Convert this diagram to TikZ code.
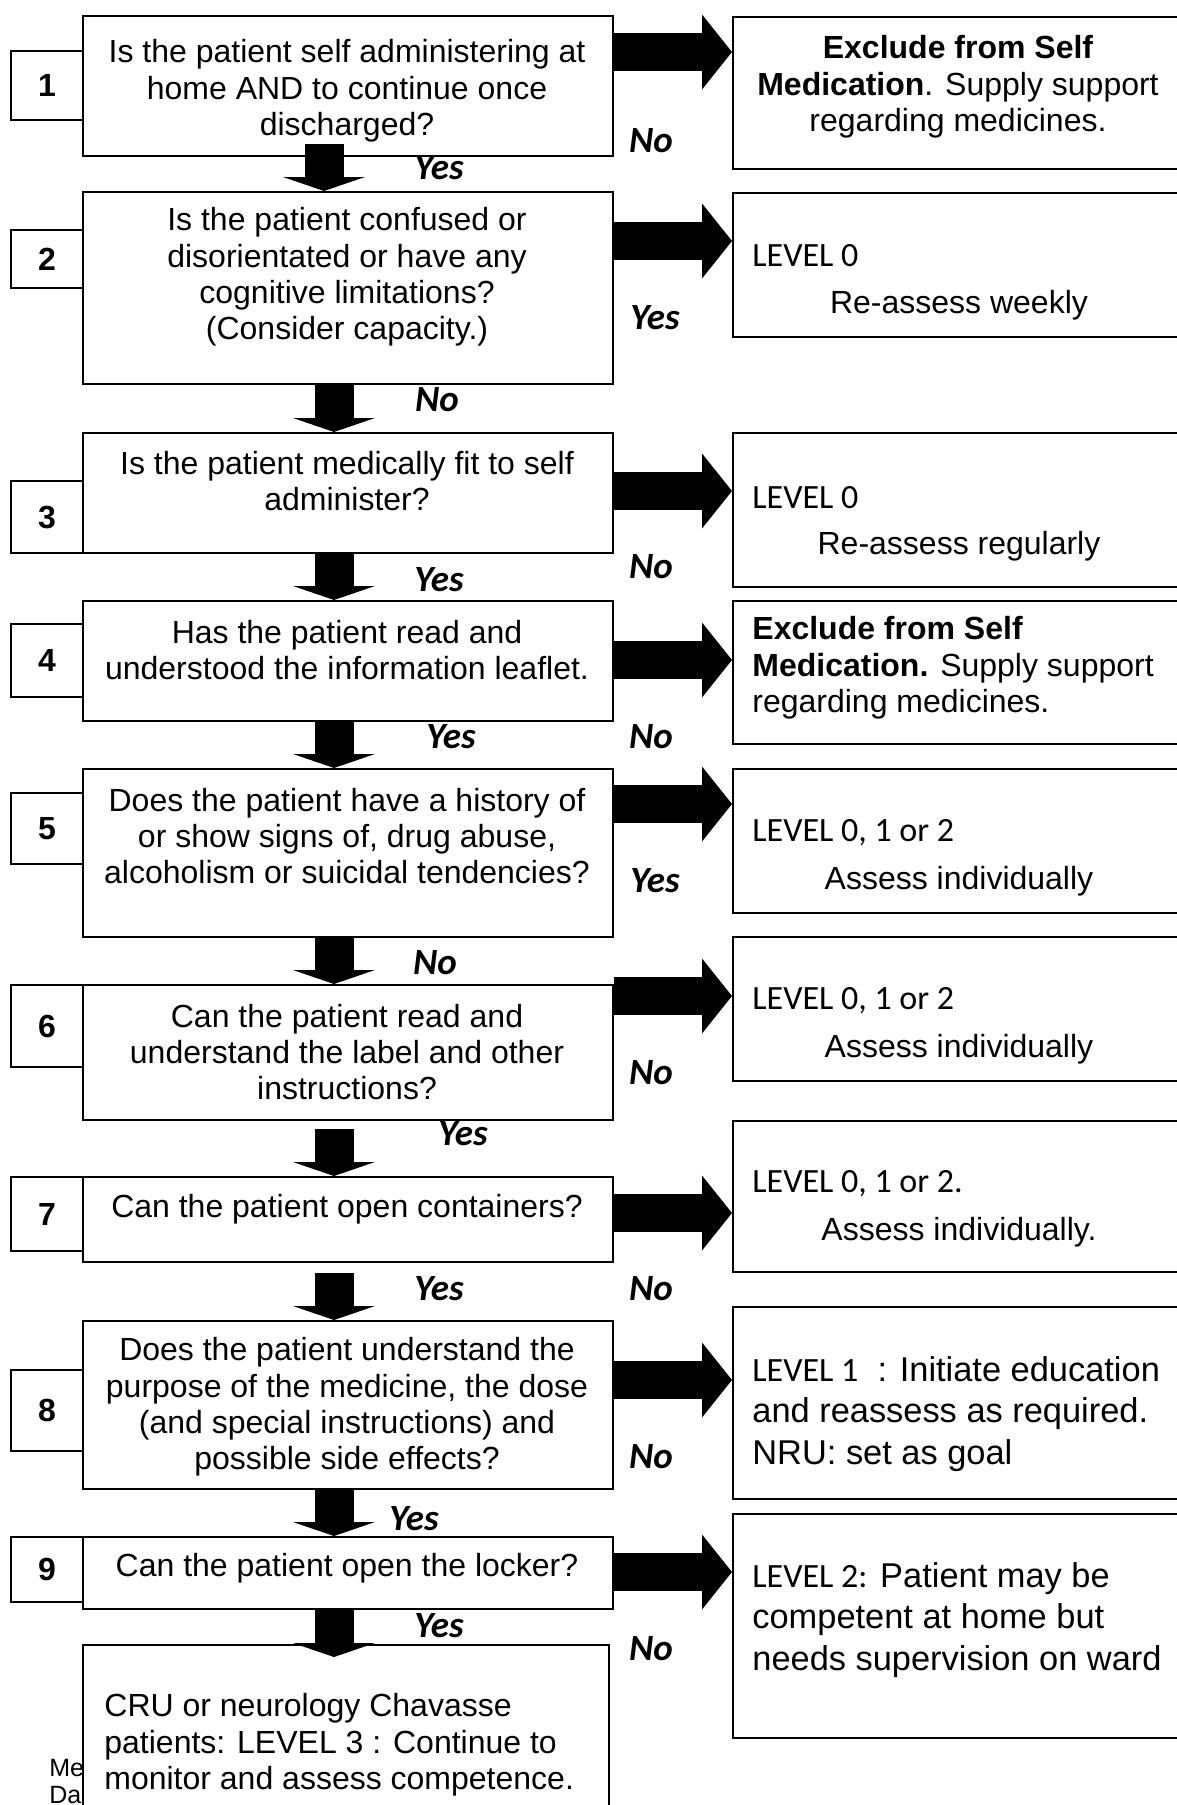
\documentclass[tikz,border=0pt]{standalone}
\usepackage{fontspec}
\setmainfont{Liberation Sans}
\newfontfamily\calib{Carlito}
\usetikzlibrary{calc}

\begin{document}
\begin{tikzpicture}
  [x=0.5pt,y=-0.5pt,
   qbox/.style={draw,line width=1pt,fill=white,anchor=north west,inner sep=0pt,minimum width=265pt},
   nbox/.style={draw,line width=1pt,fill=white,anchor=north west,inner sep=0pt,minimum width=36pt,font=\fontsize{16}{18}\selectfont\bfseries},
   rbox/.style={draw,line width=1pt,anchor=north west,inner sep=0pt,minimum width=235pt},
   qtext/.style={align=center,inner sep=0pt,font=\fontsize{16}{18.2}\selectfont},
   ltext/.style={align=left,anchor=west,inner sep=0pt,font=\fontsize{16}{18.2}\selectfont},
   btext/.style={align=left,anchor=west,inner sep=0pt,font=\fontsize{17.2}{20.7}\selectfont},
   lvl/.style={anchor=west,inner sep=0pt,font=\fontsize{17}{20}\selectfont\calib},
   yn/.style={inner sep=0pt,font=\fontsize{18.5}{20}\selectfont\calib\bfseries\itshape},
   rshaft/.style={line width=19pt,shorten >=15pt},
   dshaft/.style={line width=19.5pt,shorten >=7pt}]
  \useasboundingbox (0,0) rectangle (1177,1805);
  \clip (0,0) rectangle (1177,1805);

  % left numbers
  \node[nbox,minimum height=34.5pt] (n1) at (10,50) {1};
  \node[nbox,minimum height=29pt] (n2) at (10,229) {2};
  \node[nbox,minimum height=36pt] (n3) at (10,480) {3};
  \node[nbox,minimum height=36.5pt] (n4) at (10,623) {4};
  \node[nbox,minimum height=35.5pt] (n5) at (10,792) {5};
  \node[nbox,minimum height=41pt] (n6) at (10,984) {6};
  \node[nbox,minimum height=37pt] (n7) at (10,1176) {7};
  \node[nbox,minimum height=40.5pt] (n8) at (10,1369) {8};
  \node[nbox,minimum height=32.5pt] (n9) at (10,1536) {9};

  % questions
  \node[qbox,minimum height=70pt] (q1) at (82,15) {};
  \node[qbox,minimum height=96pt] (q2) at (82,191) {};
  \node[qbox,minimum height=60pt] (q3) at (82,432) {};
  \node[qbox,minimum height=60pt] (q4) at (82,600) {};
  \node[qbox,minimum height=84pt] (q5) at (82,768) {};
  \node[qbox,minimum height=67.5pt] (q6) at (82,984) {};
  \node[qbox,minimum height=42.5pt] (q7) at (82,1176) {};
  \node[qbox,minimum height=84pt] (q8) at (82,1320) {};
  \node[qbox,minimum height=36pt] (q9) at (82,1536) {};

  \node[qtext] (qt1) at (347,91) {Is the patient self administering at\\home AND to continue once\\discharged?};
  \node[qtext] (qt2) at (347,277) {Is the patient confused or\\disorientated or have any\\cognitive limitations?\\(Consider capacity.)};
  \node[qtext] (qt3) at (347,481) {Is the patient medically fit to self\\administer?};
  \node[qtext] (qt4) at (347,650) {Has the patient read and\\understood the information leaflet.};
  \node[qtext] (qt5) at (347,836) {Does the patient have a history of\\or show signs of, drug abuse,\\alcoholism or suicidal tendencies?};
  \node[qtext] (qt6) at (347,1052) {Can the patient read and\\understand the label and other\\instructions?};
  \node[qtext] (qt7) at (347,1209) {Can the patient open containers?};
  \node[qtext] (qt8) at (347,1407) {Does the patient understand the\\purpose of the medicine, the dose\\(and special instructions) and\\possible side effects?};
  \node[qtext] (qt9) at (347,1568) {Can the patient open the locker?};

  % last box, partly hiding the footer
  \node[anchor=west,inner sep=0pt,align=left,font=\fontsize{12.5}{13.5}\selectfont] (foot) at (49,1781) {Me\\Da};
  \node[qbox,minimum width=263pt,minimum height=93pt] (q10) at (82,1644) {};
  \node[ltext] (qt10) at (104,1745) {CRU or neurology Chavasse\\patients: LEVEL 3 : Continue to\\monitor and assess competence.};

  % outcomes
  \node[rbox,minimum height=76pt] (r1) at (732,16) {};
  \node[rbox,minimum height=72pt] (r2) at (732,192) {};
  \node[rbox,minimum height=77pt] (r3) at (732,432) {};
  \node[rbox,minimum height=71.5pt] (r4) at (732,600) {};
  \node[rbox,minimum height=72pt] (r5) at (732,768) {};
  \node[rbox,minimum height=72pt] (r6) at (732,936) {};
  \node[rbox,minimum height=75.5pt] (r7) at (732,1120) {};
  \node[rbox,minimum height=96pt] (r8) at (732,1306) {};
  \node[rbox,minimum height=112pt] (r9) at (732,1513) {};

  \node[qtext] (rt1) at (958,87) {\textbf{Exclude from Self}\\\textbf{Medication}. Supply support\\regarding medicines.};
  \node[lvl] (lv2) at (752,256) {LEVEL 0};
  \node[qtext] (rt2) at (959,305) {Re-assess weekly};
  \node[lvl] (lv3) at (752,498) {LEVEL 0};
  \node[qtext] (rt3) at (959,546) {Re-assess regularly};
  \node[ltext] (rt4) at (752,668) {\textbf{Exclude from Self}\\\textbf{Medication.} Supply support\\regarding medicines.};
  \node[lvl] (lv5) at (752,833) {LEVEL 0, 1 or 2};
  \node[qtext] (rt5) at (959,881) {Assess individually};
  \node[lvl] (lv6) at (752,1001) {LEVEL 0, 1 or 2};
  \node[qtext] (rt6) at (959,1049) {Assess individually};
  \node[lvl] (lv7) at (752,1184) {LEVEL 0, 1 or 2.};
  \node[qtext] (rt7) at (959,1232) {Assess individually.};
  \node[btext] (rt8) at (752,1414) {{\calib\fontsize{17}{20}\selectfont LEVEL 1}\ \ : Initiate education\\and reassess as required.\\NRU: set as goal};
  \node[btext] (rt9) at (752,1620) {{\calib\fontsize{17}{20}\selectfont LEVEL 2:} Patient may be\\competent at home but\\needs supervision on ward};

  % arrows: thick shaft, then the head at the far end
  \foreach \i/\y in {1/52,2/241,3/491,4/660,5/804,6/996,7/1213,8/1380,9/1572}{
    \draw[rshaft] (q\i.east |- 0,\y) -- (r\i.west |- 0,\y);
    \fill (r\i.west |- 0,\y) -- ++(-30,-37.5) -- ++(0,75) -- cycle;
  }
  \foreach \i/\j/\x/\d/\e in {1/2/324/-13/0,2/3/334/0/0,3/4/334/0/0,4/5/334/0/0,5/6/334/0/0,
                              6/7/334/8/0,7/8/334/10/0,8/9/334/0/0,9/10/334/0/13}{
    \draw[dshaft] ($(q\i.south -| \x,0)+(0,\d)$) -- ($(q\j.north -| \x,0)+(0,\e)$);
    \fill ($(q\j.north -| \x,0)+(0,\e)$) -- ++(-41,-14) -- ++(82,0) -- cycle;
  }

  % answers
  \foreach \n/\x/\y/\t in {a1/439/168/Yes,a2/437/400/No,a3/439/580/Yes,a4/451/737/Yes,a5/435/963/No,
                           a6/463/1134/Yes,a7/439/1289/Yes,a8/414/1519/Yes,a9/439/1626/Yes,
                           b1/651/141/No,b2/655/318/Yes,b3/651/567/No,b4/651/737/No,b5/655/881/Yes,
                           b6/651/1073/No,b7/651/1289/No,b8/651/1457/No,b9/651/1649/No}
    \node[yn] (\n) at (\x,\y) {\t};
\end{tikzpicture}
\end{document}
